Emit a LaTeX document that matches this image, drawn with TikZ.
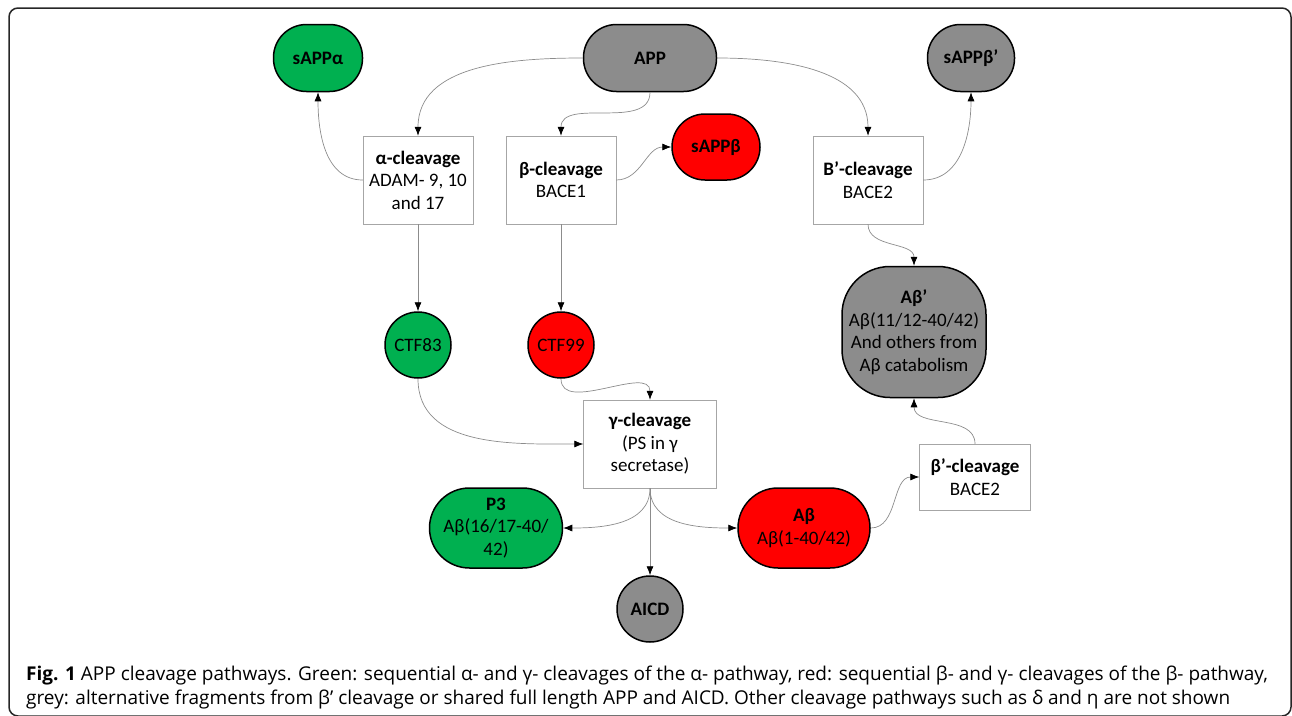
\documentclass[tikz,border=0pt]{standalone}
\usepackage{fontspec}
\setmainfont{Carlito}
\newfontfamily\capfont{Open Sans}
\usetikzlibrary{arrows.meta,positioning}
\definecolor{fragGreen}{HTML}{00B050}
\definecolor{fragRed}{HTML}{FF0000}
\definecolor{fragGrey}{HTML}{8C8C8C}
\tikzset{
	proc/.style={draw=black!35,fill=white,minimum width=110pt,minimum height=88pt,align=center,inner sep=2pt},
	frag/.style={draw=black,line width=1.5pt,align=center,inner sep=2pt},
	pill/.style={frag,rounded corners=33pt,minimum width=89pt,minimum height=67pt},
	disc/.style={frag,circle,minimum size=66pt},
	link/.style={draw=black!45,line width=0.7pt,-{Latex[length=9pt,width=7pt,color=black]}},
	caption/.style={anchor=base west,inner sep=0pt,font=\capfont\fontsize{19}{23}\selectfont},
}
\begin{document}
\begin{tikzpicture}[x=1pt,y=-1pt,font=\fontsize{19}{22.5}\selectfont]
	\useasboundingbox (0,0) rectangle (1292,715);
	\clip (0,0) rectangle (1292,715);
	\draw[line width=1.5pt,black!85,rounded corners=9pt] (9,8) rectangle (1291,716);
	% fragments and cleavage steps
	\node[pill,fill=fragGreen] (sAPPa) at (318,58) {\textbf{sAPPα}};
	\node[pill,fill=fragGrey,minimum width=133pt] (APP) at (650,58) {\textbf{APP}};
	\node[pill,fill=fragGrey,minimum width=87pt] (sAPPb2) at (971,58) {\textbf{sAPPβ’}};
	\node[proc] (acleave) at (418,180) {\textbf{α-cleavage}\\ADAM- 9, 10\\and 17};
	\node[proc] (bcleave) at (561,180) {\textbf{β-cleavage}\\BACE1};
	\node[pill,fill=fragRed,minimum width=88pt,minimum height=66pt] (sAPPb) at (716,147) {\textbf{sAPPβ}};
	\node[proc] (Bcleave) at (868,180) {\textbf{B’-cleavage}\\BACE2};
	\node[frag,fill=fragGrey,rounded corners=48pt,minimum width=144pt,minimum height=131pt] (Ab2) at (914,332) {\textbf{Aβ’}\\Aβ(11/12-40/42)\\And others from\\Aβ catabolism};
	\node[disc,fill=fragGreen] (CTF83) at (418,345) {CTF83};
	\node[disc,fill=fragRed] (CTF99) at (561,345) {CTF99};
	\node[proc,minimum width=133pt] (gcleave) at (650,444) {\textbf{γ-cleavage}\\(PS in γ\\secretase)};
	\node[proc,minimum width=111pt,minimum height=66pt] (b2cleave) at (975,477) {\textbf{β’-cleavage}\\BACE2};
	\node[pill,fill=fragGreen,rounded corners=40pt,minimum width=133pt,minimum height=80pt] (P3) at (496,528) {\textbf{P3}\\Aβ(16/17-40/\\42)};
	\node[pill,fill=fragRed,rounded corners=40pt,minimum width=132pt,minimum height=80pt] (Ab) at (804,528) {\textbf{Aβ}\\Aβ(1-40/42)};
	\node[disc,fill=fragGrey] (AICD) at (650,609) {\textbf{AICD}};
	% connectors
	\draw[link] (APP.west) to[out=180,in=90] (acleave.north);
	\draw[link] (APP.south) to[out=-90,in=90] (bcleave.north);
	\draw[link] (APP.east) to[out=0,in=90] (Bcleave.north);
	\draw[link] (acleave.west) to[out=180,in=-90] (sAPPa.south);
	\draw[link] (bcleave.east) to[out=0,in=180] (sAPPb.west);
	\draw[link] (Bcleave.east) to[out=0,in=-90] (sAPPb2.south);
	\draw[link] (Bcleave.south) to[out=-90,in=90] (Ab2.north);
	\draw[link] (acleave) -- (CTF83);
	\draw[link] (bcleave) -- (CTF99);
	\draw[link] (CTF99.south) to[out=-90,in=90] (gcleave.north);
	\draw[link] (CTF83.south) to[out=-90,in=180] (gcleave.west);
	\draw[link] (gcleave.south) to[out=-90,in=0] (P3.east);
	\draw[link] (gcleave.south) to[out=-90,in=180] (Ab.west);
	\draw[link] (gcleave) -- (AICD);
	\draw[link] (Ab.east) to[out=0,in=180] (b2cleave.west);
	\draw[link] (b2cleave.north) to[out=90,in=-90] (Ab2.south);
	% caption
	\node[caption] (capA) at (26,680) {\textbf{Fig. 1} APP cleavage pathways. Green: sequential α- and γ- cleavages of the α- pathway, red: sequential β- and γ- cleavages of the β- pathway,};
	\node[caption] (capB) at (26,704) {grey: alternative fragments from β’ cleavage or shared full length APP and AICD. Other cleavage pathways such as δ and η are not shown};
\end{tikzpicture}
\end{document}
